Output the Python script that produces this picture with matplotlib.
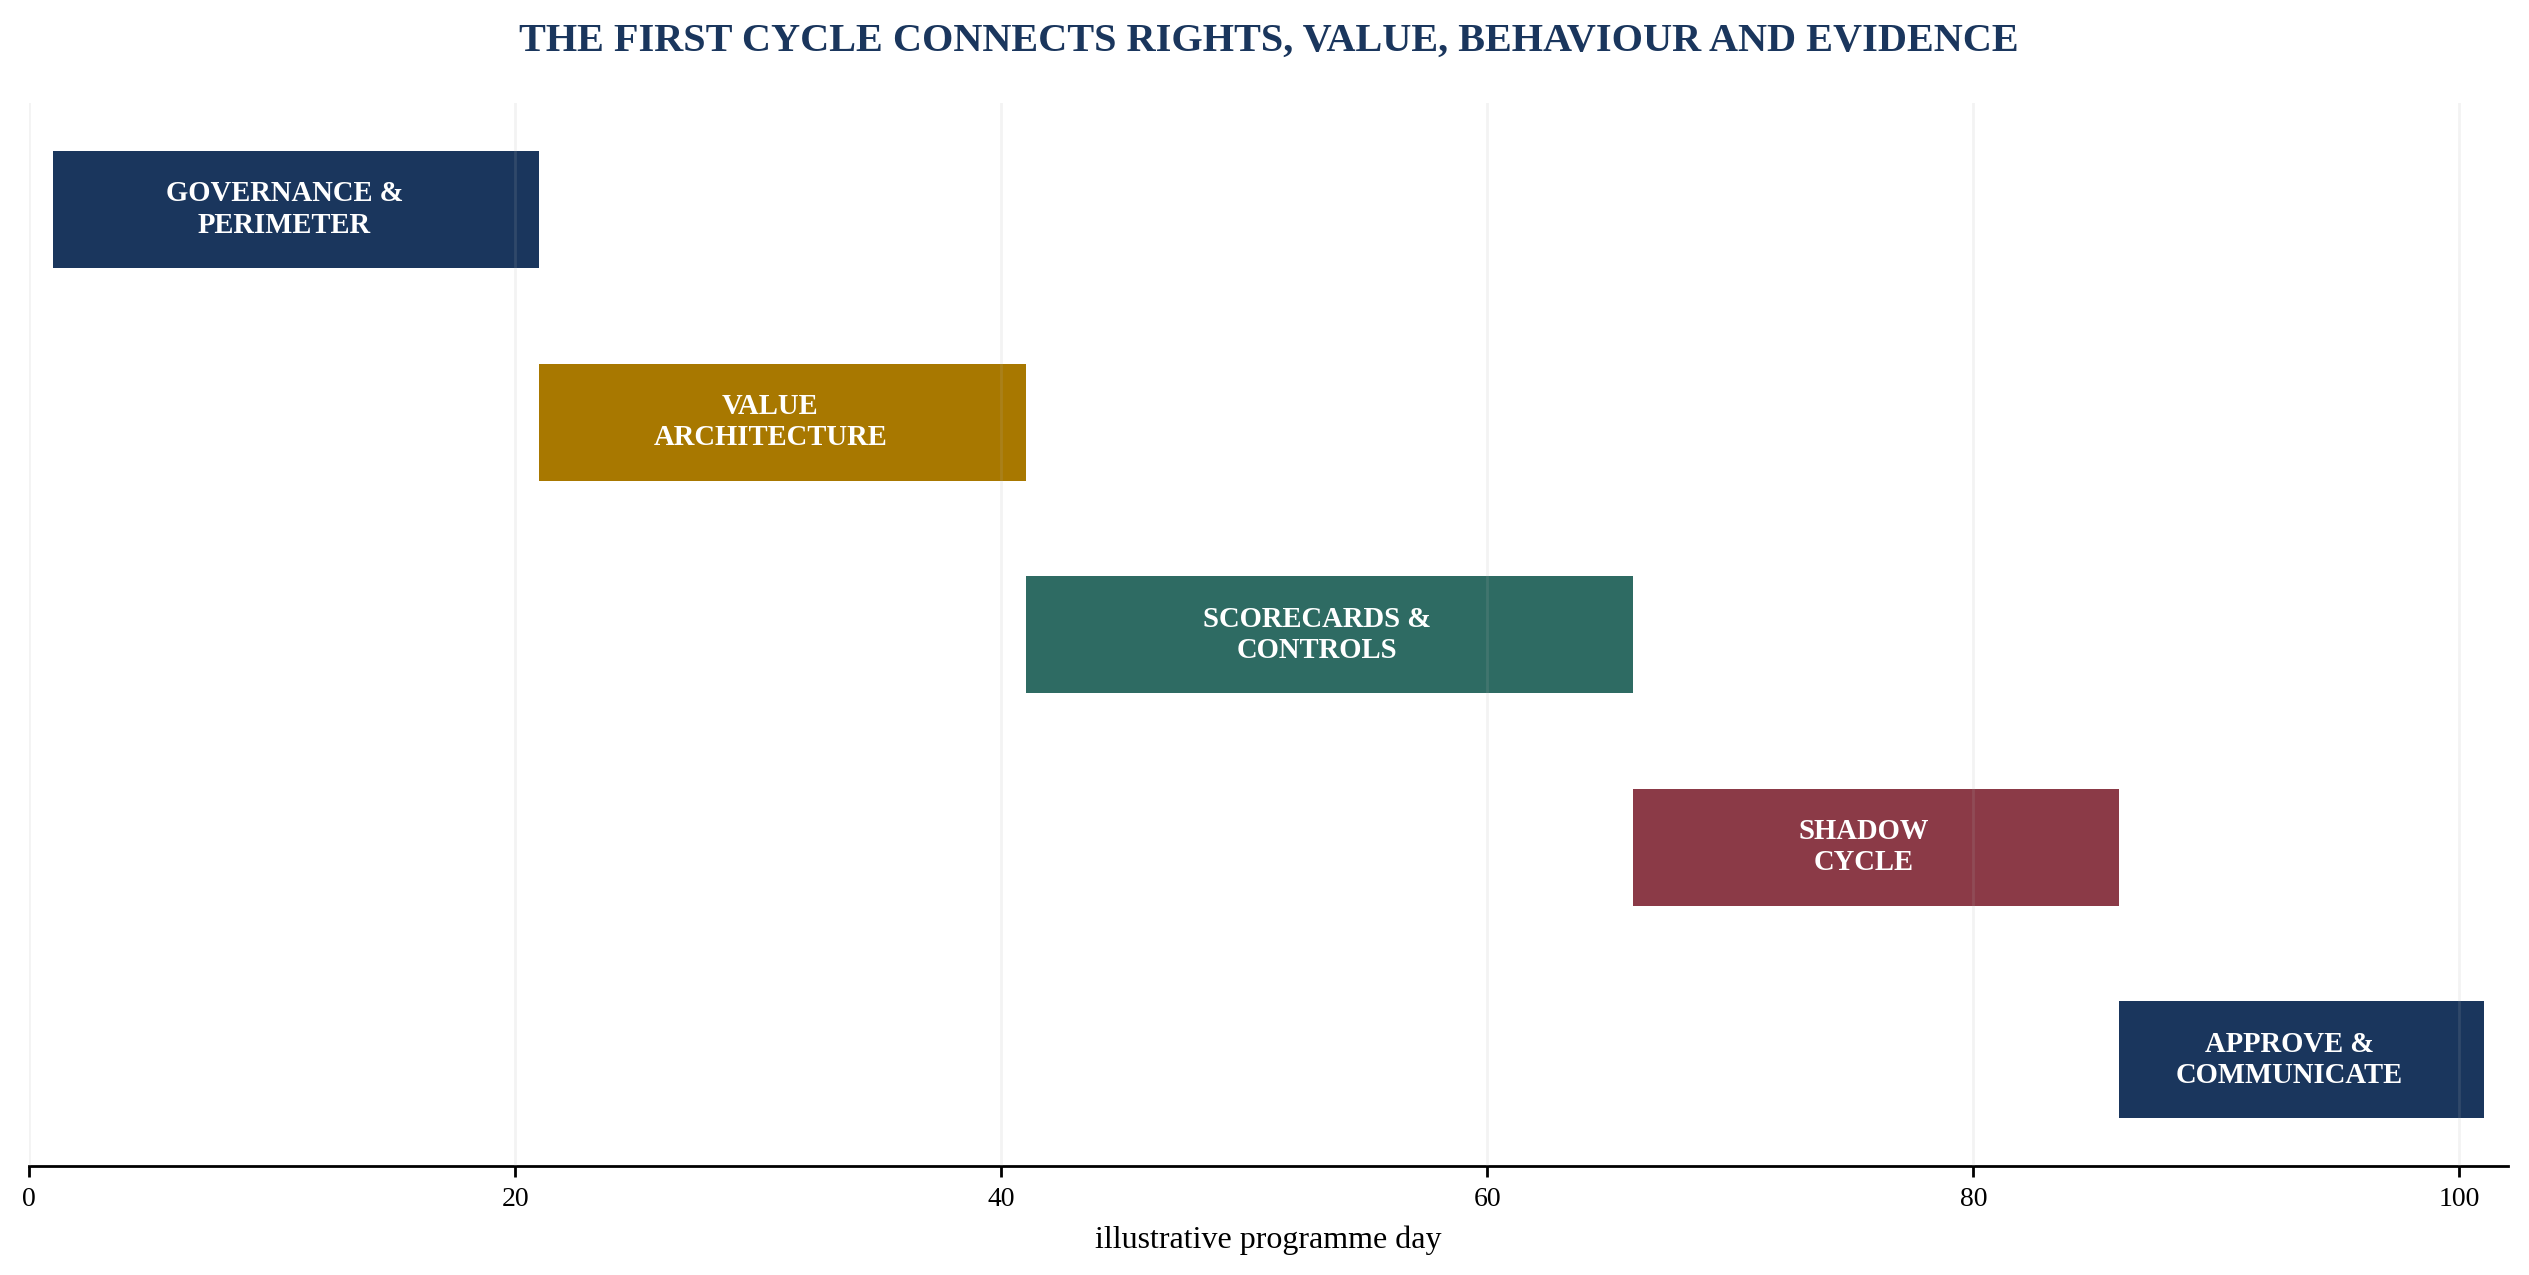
import matplotlib
matplotlib.use("Agg")
import matplotlib.pyplot as plt

phases = ["GOVERNANCE &\nPERIMETER", "VALUE\nARCHITECTURE", "SCORECARDS &\nCONTROLS",
          "SHADOW\nCYCLE", "APPROVE &\nCOMMUNICATE"]
start_day = [1, 21, 41, 66, 86]
end_day = [20, 40, 65, 85, 100]
colors = ["#1a365d", "#a87800", "#2e6b63", "#8b3a47", "#1a365d"]
xticks = [0, 20, 40, 60, 80, 100]

plt.rcParams['font.family'] = ['Liberation Serif', 'DejaVu Serif']

fig = plt.figure(figsize=(12.645, 6.375), dpi=200)
ax = fig.add_axes([0.0115, 0.0855, 0.9802, 0.8335])

rows = list(range(len(phases)))
widths = [e - s + 1 for s, e in zip(start_day, end_day)]
ax.barh(rows, widths, left=start_day, height=0.55, color=colors, zorder=1)
for r, s, e, lab in zip(rows, start_day, end_day, phases):
    ax.text((s + e) / 2, r, lab, ha='center', va='center', color='white',
            fontsize=10.3, fontweight='bold', zorder=3)

ax.set_xlim(0, 102)
ax.set_ylim(len(phases) - 0.5, -0.5)
ax.set_xticks(xticks)
ax.set_yticks([])
ax.grid(axis='x', color='#b0b0b0', alpha=0.15, linewidth=1.0, zorder=2)
ax.set_axisbelow(False)
for sp in ['top', 'right', 'left']:
    ax.spines[sp].set_visible(False)
ax.spines['bottom'].set_linewidth(1.0)
ax.tick_params(axis='x', labelsize=10, length=4, width=1.0)
ax.set_xlabel("illustrative programme day", fontsize=11.5, labelpad=5)
ax.set_title("THE FIRST CYCLE CONNECTS RIGHTS, VALUE, BEHAVIOUR AND EVIDENCE",
             fontsize=14.5, fontweight='bold', color='#1a365d', pad=19)

fig.savefig("out.png", dpi=200)
